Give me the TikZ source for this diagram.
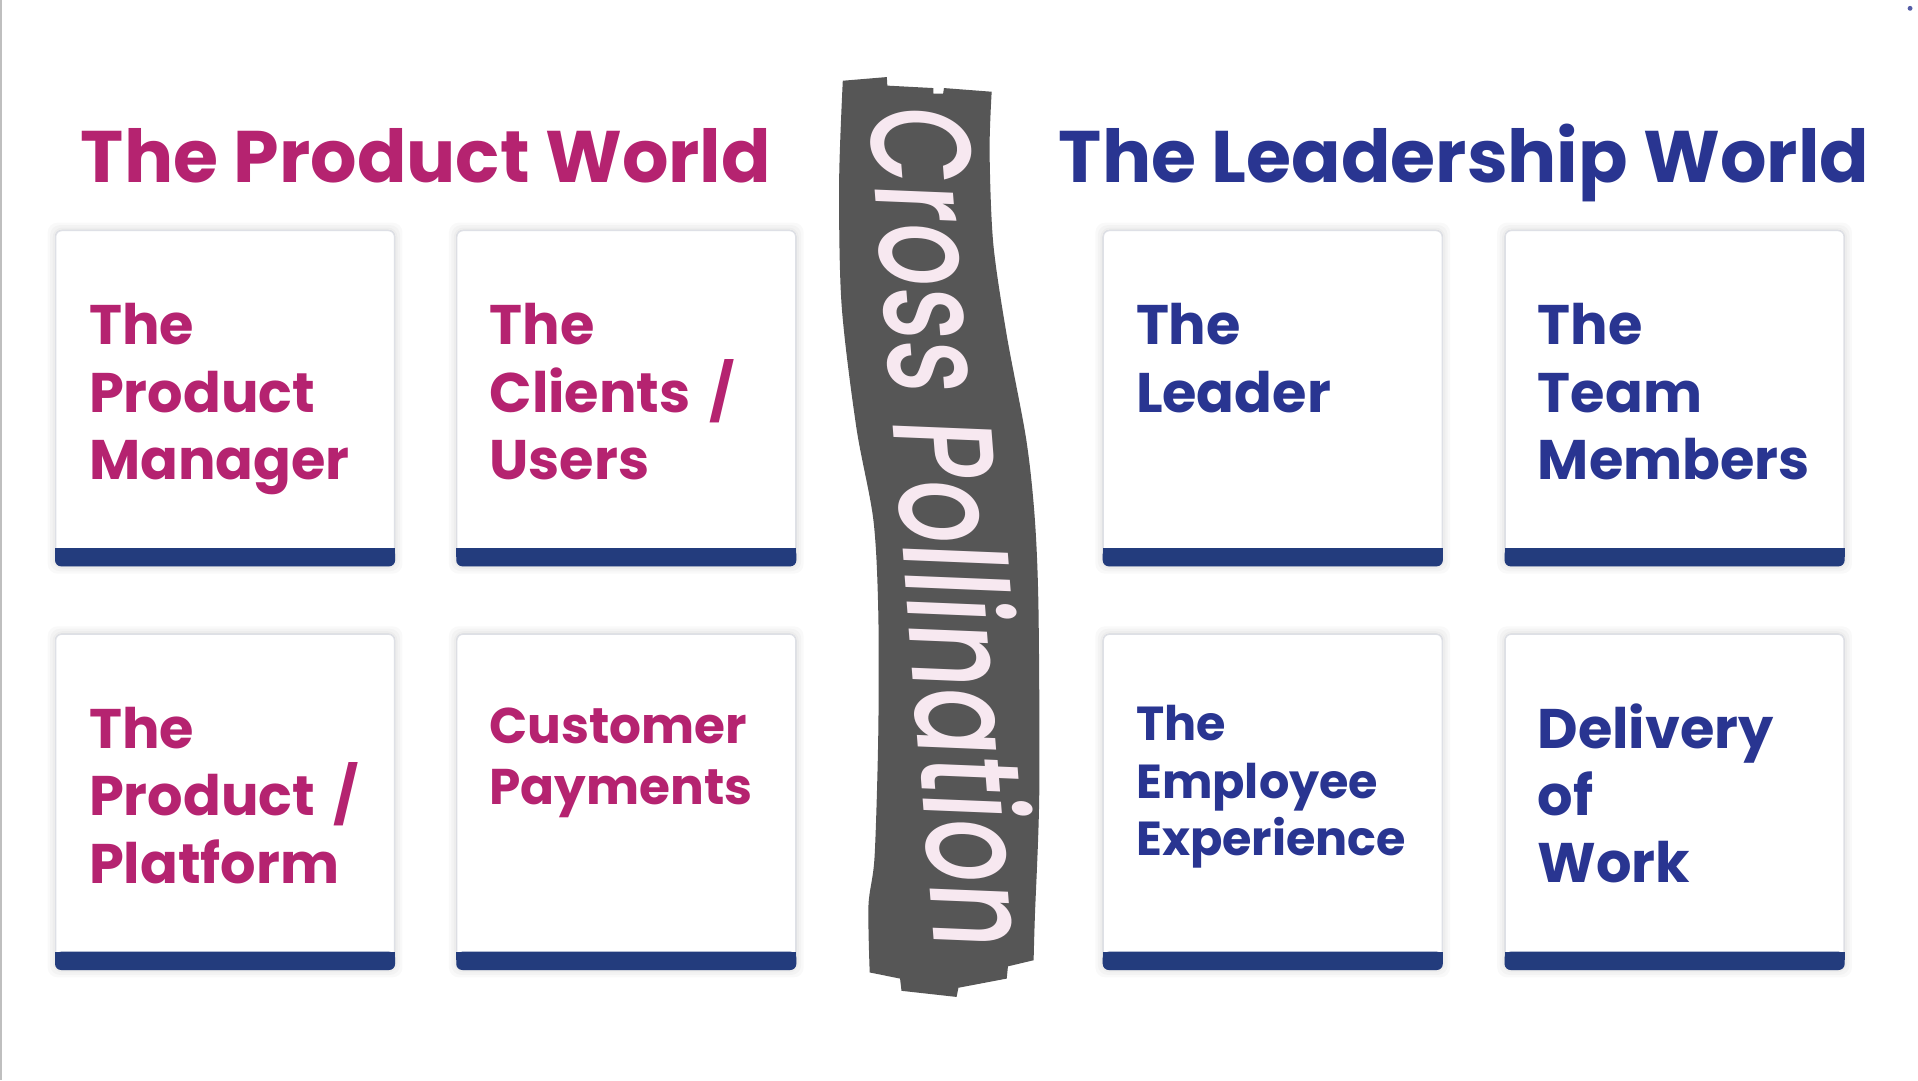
\documentclass[tikz,border=0pt]{standalone}
\usepackage{graphicx}
\usepackage{fontspec}
\setmainfont{Poppins}
\newfontfamily\handfont{Poppins Medium}
\definecolor{prodc}{RGB}{181,35,112}
\definecolor{leadc}{RGB}{41,53,145}
\definecolor{barc}{RGB}{35,60,125}
\definecolor{bandc}{RGB}{86,86,86}
\definecolor{bandtext}{RGB}{247,232,240}
\definecolor{cardline}{RGB}{222,224,230}
\tikzset{
  card/.style={draw=cardline, line width=1bp, fill=white, rounded corners=5bp,
    minimum width=277bp, minimum height=274bp, inner sep=0, anchor=north west},
  shadowbox/.style={fill=black, opacity=0.022, rounded corners=8bp},
  cardbar/.style={fill=barc},
  cardtext/.style={anchor=base west, inner sep=0, text width=248bp, align=left},
  bigtext/.style={font=\bfseries\fontsize{45.6bp}{55bp}\selectfont},
  midtext/.style={font=\bfseries\fontsize{41bp}{49.6bp}\selectfont},
  smalltext/.style={font=\bfseries\fontsize{39bp}{47bp}\selectfont},
  worldtitle/.style={anchor=base west, inner sep=0, font=\bfseries\fontsize{59.7bp}{70bp}\selectfont},
}
\newcommand\mkcard[2]{%
  \node[card] (#1) at (#2) {};
  \foreach \d in {2,4,6}{
    \fill[shadowbox] ([xshift=-\d bp, yshift=\d bp]#1.north west) rectangle ([xshift=\d bp, yshift=-\d bp]#1.south east);
  }
  \node[card] (#1) at (#2) {};
  \fill[cardbar, rounded corners=5bp] ([yshift=15bp]#1.south west) rectangle (#1.south east);
  \fill[cardbar] ([yshift=15bp]#1.south west) rectangle ([yshift=8bp]#1.south east);
}
\begin{document}
\begin{tikzpicture}[x=1bp, y=-1bp]
\useasboundingbox (0,0) rectangle (1568,883);
\fill[white] (0,0) rectangle (1568,883);
\draw[black!25, line width=1.5bp] (0.75,0) -- (0.75,883);
\fill[leadc!80] (1561.5,6.8) circle (2);

% titles
\node[worldtitle, text=prodc] (tprod) at (66,149) {The Product World};
\node[worldtitle, text=leadc] (tlead) at (865.5,149.6) {The Leadership World};

% cards
\mkcard{c1}{45,188}
\mkcard{c2}{373,188}
\mkcard{c3}{901.5,188}
\mkcard{c4}{1230,188}
\mkcard{c5}{45,518}
\mkcard{c6}{373,518}
\mkcard{c7}{901.5,518}
\mkcard{c8}{1230,518}

\node[cardtext, bigtext, text=prodc] (x1) at (72.6,282) {The\\Product\\Manager};
\node[cardtext, bigtext, text=prodc] (x2) at (400,282) {The\\Clients /\\Users};
\node[cardtext, bigtext, text=leadc] (x3) at (928.5,282) {The\\Leader};
\node[cardtext, bigtext, text=leadc] (x4) at (1257,282) {The\\Team\\Members};
\node[cardtext, bigtext, text=prodc] (x5) at (72.6,612) {The\\Product /\\Platform};
\node[cardtext, midtext, text=prodc] (x6) at (400,607.7) {Customer\\Payments};
\node[cardtext, smalltext, text=leadc] (x7) at (928.7,605.5) {The\\Employee\\Experience};
\node[cardtext, bigtext, text=leadc] (x8) at (1256.8,611.8) {Delivery\\of\\Work};

% banner
\fill[bandc] (689,66) -- (725,63) -- (725.4,70) -- (763,72) -- (763,76.6) -- (771,76.6) -- (771.7,72) -- (810.7,75)
  -- plot[smooth] coordinates {(810.7,75) (809,124) (812,199) (823,274) (839,359.5) (846,424.5) (849,499.6) (849.6,649.8) (846,750) (845,785)}
  -- (824,790) -- (823,800) -- (783.5,807.5) -- (782,815) -- (737,810) -- (735.8,800) -- (711,795)
  -- plot[smooth] coordinates {(711,795) (710,740) (715,700) (718,600) (718,500) (714,425) (700,349) (688,249) (686,149) (689,66)}
  -- cycle;
\node[rotate=-85.5, xslant=0.12, text=bandtext, inner sep=0] (cross) at (781,432)
  {\resizebox*{690bp}{90bp}{\handfont\fontsize{128bp}{130bp}\selectfont Cross Pollination}};
\end{tikzpicture}
\end{document}
